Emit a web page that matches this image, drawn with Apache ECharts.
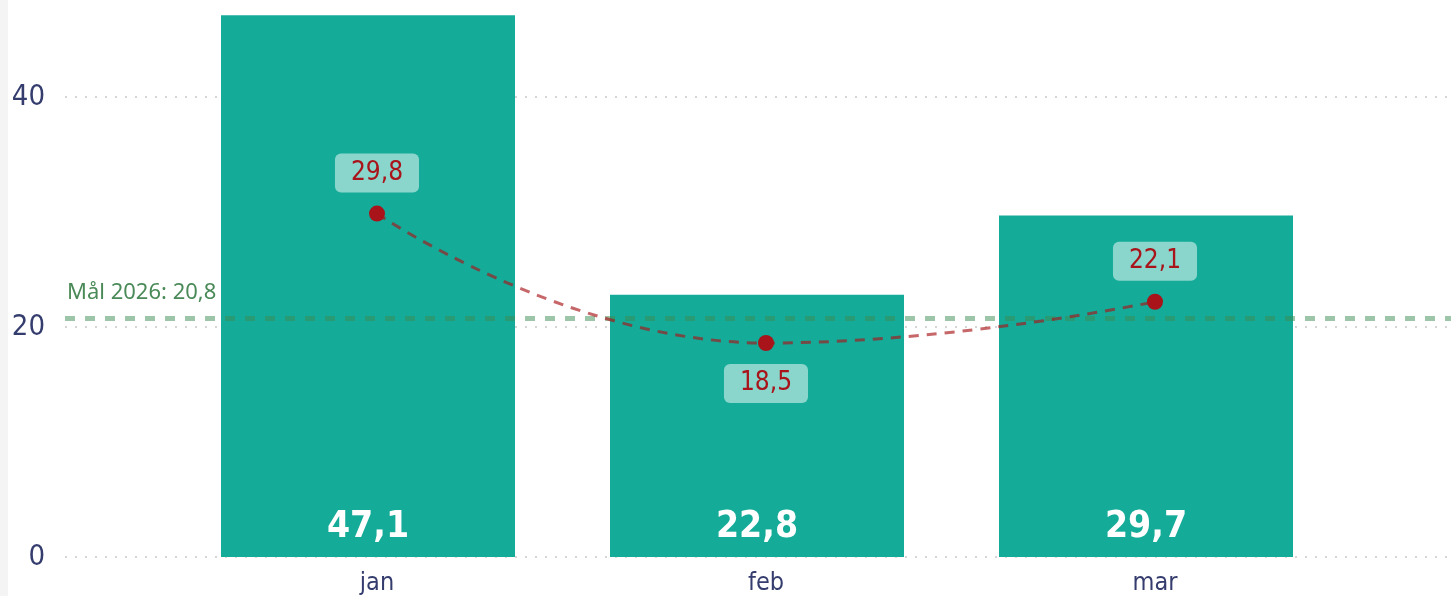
<!DOCTYPE html>
<html>
<head>
<meta charset="utf-8">
<script src="https://cdn.jsdelivr.net/npm/echarts@6/dist/echarts.min.js"></script>
<style>html,body{margin:0;padding:0;background:#fff;}#c{width:1451px;height:596px;}</style>
</head>
<body>
<div id="c"></div>
<script>
const categories = ['jan', 'feb', 'mar'];
const barValues = [47.1, 22.8, 29.7];
const lineValues = [29.8, 18.5, 22.1];
const lineLabelPositions = ['top', 'bottom', 'top'];
const goalValue = 20.8;
const goalName = 'Mål 2026';
const yTicks = [0, 20, 40];
const yMin = 0, yMax = 48, yInterval = 20;

const FONT = '"DejaVu Sans Condensed", "DejaVu Sans", sans-serif';
const AXIS_COLOR = '#353d6e';
const fmt = v => String(v).replace('.', ',');

const chart = echarts.init(document.getElementById('c'), null, {renderer: 'canvas'});
const gridTop = 5, gridBottom = 39;
const yBase = {type: 'value', min: yMin, max: yMax, interval: yInterval};

chart.setOption({
  animation: false,
  backgroundColor: '#ffffff',
  graphic: [{type: 'rect', left: 0, top: 0, shape: {width: 8, height: 596}, style: {fill: '#f4f4f4'}, silent: true}],
  grid: [
    {left: 65, right: 0, top: gridTop, bottom: gridBottom},
    {left: 173.5, right: 110.5, top: gridTop, bottom: gridBottom},
    {left: 182.5, right: 101.5, top: gridTop, bottom: gridBottom}
  ],
  xAxis: [
    {type: 'category', gridIndex: 0, data: categories, show: false},
    {type: 'category', gridIndex: 1, data: categories, show: false},
    {type: 'category', gridIndex: 2, data: categories,
      axisLine: {show: false}, axisTick: {show: false},
      axisLabel: {color: AXIS_COLOR, fontFamily: FONT, fontSize: 25, margin: 16}}
  ],
  yAxis: [
    Object.assign({gridIndex: 0,
      axisLine: {show: false}, axisTick: {show: false},
      axisLabel: {color: AXIS_COLOR, fontFamily: FONT, fontSize: 29, margin: 20, showMaxLabel: false},
      splitLine: {show: false}}, yBase),
    Object.assign({gridIndex: 1, show: false, splitLine: {show: false}}, yBase),
    Object.assign({gridIndex: 2, show: false, splitLine: {show: false}}, yBase)
  ],
  series: [
    {
      type: 'line', xAxisIndex: 0, yAxisIndex: 0, data: [], z: 1, silent: true,
      markLine: {
        z: 1, symbol: 'none', silent: true, label: {show: false},
        lineStyle: {color: '#c8c8c8', width: 1.5, type: [2, 8]},
        data: yTicks.map(v => ({yAxis: v}))
      }
    },
    {
      type: 'bar', xAxisIndex: 1, yAxisIndex: 1, data: barValues, barWidth: 294, z: 2,
      itemStyle: {color: '#14ab98'},
      label: {show: true, position: 'insideBottom', distance: 11, color: '#ffffff',
        fontFamily: FONT, fontWeight: 'bold', fontSize: 37, formatter: p => fmt(p.value)}
    },
    {
      type: 'line', xAxisIndex: 0, yAxisIndex: 0, data: [], z: 3, silent: true,
      markLine: {
        z: 3, symbol: 'none', silent: true,
        lineStyle: {color: 'rgba(60,140,80,0.5)', width: 5, type: [10, 10]},
        label: {show: true, position: 'insideStartTop', distance: [2, 14], color: '#4a8a58',
          fontFamily: '"Noto Sans", sans-serif', fontSize: 22,
          formatter: p => goalName + ': ' + fmt(p.value)},
        data: [{yAxis: goalValue}]
      }
    },
    {
      type: 'line', xAxisIndex: 2, yAxisIndex: 2, z: 4, smooth: 0.5,
      data: lineValues.map((v, i) => ({value: v, label: {position: lineLabelPositions[i]}})),
      symbol: 'circle', symbolSize: 16,
      itemStyle: {color: '#a8141a'},
      lineStyle: {color: 'rgba(168,22,26,0.65)', width: 3, type: [10, 8]},
      label: {show: true, distance: 13, color: '#a8141a', fontFamily: FONT, fontSize: 26,
        lineHeight: 31, padding: [4, 16], borderRadius: 6,
        backgroundColor: 'rgba(255,255,255,0.5)', formatter: p => fmt(p.value)}
    }
  ]
});
</script>
</body>
</html>
